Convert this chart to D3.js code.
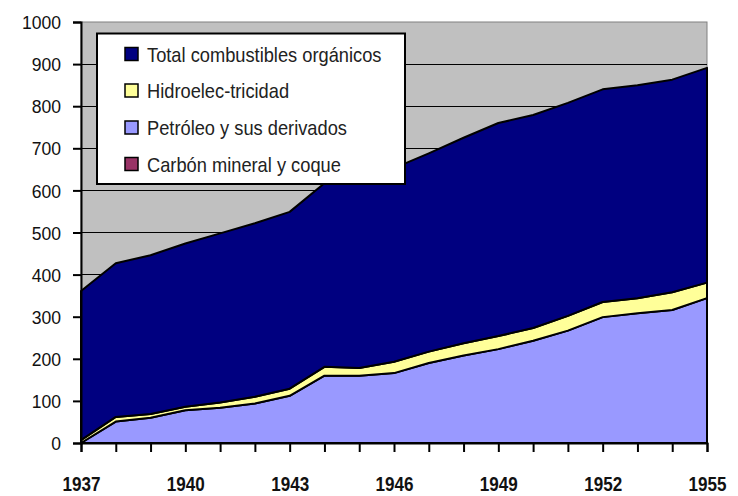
<!DOCTYPE html>
<html>
<head>
<meta charset="utf-8">
<script src="https://cdn.jsdelivr.net/npm/d3@7"></script>
<style>
  html, body { margin: 0; padding: 0; background: #ffffff; }
  svg { display: block; font-family: "Liberation Sans", Arial, sans-serif; }
</style>
</head>
<body>
<svg id="chart" width="738" height="496"></svg>
<script>
// ---- data ----
const years = [1937,1938,1939,1940,1941,1942,1943,1944,1945,1946,1947,1948,1949,1950,1951,1952,1953,1954,1955];
const carbon   = [0,0,0,0,0,0,0,0,0,0,0,0,0,0,0,0,0,0,0];
const petroleo = [0,51,60,78,84,94,112,160,160,166,190,208,223,243,267,299,308,316,344];
const hidro    = [7,11,9,8,12,16,17,21,18,27,27,29,31,30,35,36,36,42,37];
const totalOrg = [354,365,377,388,402,412,420,436,458,460,471,488,506,506,506,505,506,505,510];
const seriesNames = ["Carbón mineral y coque","Petróleo y sus derivados","Hidroelec-tricidad","Total combustibles orgánicos"];
const seriesColors = ["#993366","#9999FF","#FFFF99","#000080"];
const yTicks = [0,100,200,300,400,500,600,700,800,900,1000];
const xLabelYears = [1937,1940,1943,1946,1949,1952,1955];

const table = years.map((yr, i) => ({
  year: yr, s0: carbon[i], s1: petroleo[i], s2: hidro[i], s3: totalOrg[i]
}));
const keys = ["s0","s1","s2","s3"];

const svg = d3.select("#chart");
const L = 81, R = 707, T = 22, B = 443;
const x = d3.scaleLinear().domain([1937,1955]).range([L,R]);
const y = d3.scaleLinear().domain([0,1000]).range([B,T]);

// plot background
svg.append("rect").attr("x",L).attr("y",T).attr("width",R-L).attr("height",B-T)
  .attr("fill","#C0C0C0").attr("stroke","#808080").attr("stroke-width",1);

// gridlines
svg.append("g").selectAll("line").data(yTicks.filter(v => v>0 && v<1000)).join("line")
  .attr("x1",L).attr("x2",R).attr("y1",d=>y(d)).attr("y2",d=>y(d))
  .attr("stroke","#000").attr("stroke-width",1).attr("shape-rendering","crispEdges");

// stacked areas
const stacked = d3.stack().keys(keys)(table);
const area = d3.area().x(d=>x(d.data.year)).y0(d=>y(d[0])).y1(d=>y(d[1]));
svg.append("g").selectAll("path").data(stacked).join("path")
  .attr("d", area)
  .attr("fill",(d,i)=>seriesColors[i])
  .attr("stroke","#000").attr("stroke-width",2).attr("stroke-linejoin","round");

// y axis
const yAxis = svg.append("g").attr("transform",`translate(${L},0)`)
  .call(d3.axisLeft(y).tickValues(yTicks).tickSize(8).tickFormat(d3.format("d")));
yAxis.select(".domain").attr("stroke","#000").attr("stroke-width",2);
yAxis.selectAll(".tick line").attr("stroke","#000").attr("stroke-width",2);
const ys = 0.95;
yAxis.selectAll(".tick text")
  .attr("x", -20/ys).attr("dy","0.36em")
  .attr("transform",`scale(${ys},1)`)
  .style("font-family",'"Liberation Sans", Arial, sans-serif')
  .style("font-size","18.5px").attr("fill","#111");

// x axis
const xAxis = svg.append("g").attr("transform",`translate(0,${B})`)
  .call(d3.axisBottom(x).tickValues(years).tickSize(9)
    .tickFormat(d => xLabelYears.includes(d) ? String(d) : ""));
xAxis.select(".domain").attr("stroke","#000").attr("stroke-width",2);
xAxis.selectAll(".tick line").attr("stroke","#000").attr("stroke-width",2);
xAxis.selectAll(".tick text")
  .attr("y", 48).attr("dy", 0)
  .attr("transform","scale(0.875,1)")
  .style("font-family",'"Liberation Sans", Arial, sans-serif')
  .style("font-size","19.5px").style("font-weight","bold").attr("fill","#111");

// legend
const legend = svg.append("g");
legend.append("rect").attr("x",97).attr("y",33.5).attr("width",308).attr("height",150.5)
  .attr("fill","#fff").attr("stroke","#000").attr("stroke-width",2);
const legendOrder = [3,2,1,0];
const baselines = [61.5, 98, 135, 171.5];
legendOrder.forEach((si, r) => {
  legend.append("rect").attr("x",125).attr("y",baselines[r]-14).attr("width",13).attr("height",13)
    .attr("fill",seriesColors[si]).attr("stroke","#000").attr("stroke-width",1.5);
  legend.append("g").attr("transform",`translate(147,${baselines[r]}) scale(0.87,1)`)
    .append("text").text(seriesNames[si])
    .style("font-size","21px").attr("fill","#222");
});
</script>
</body>
</html>
